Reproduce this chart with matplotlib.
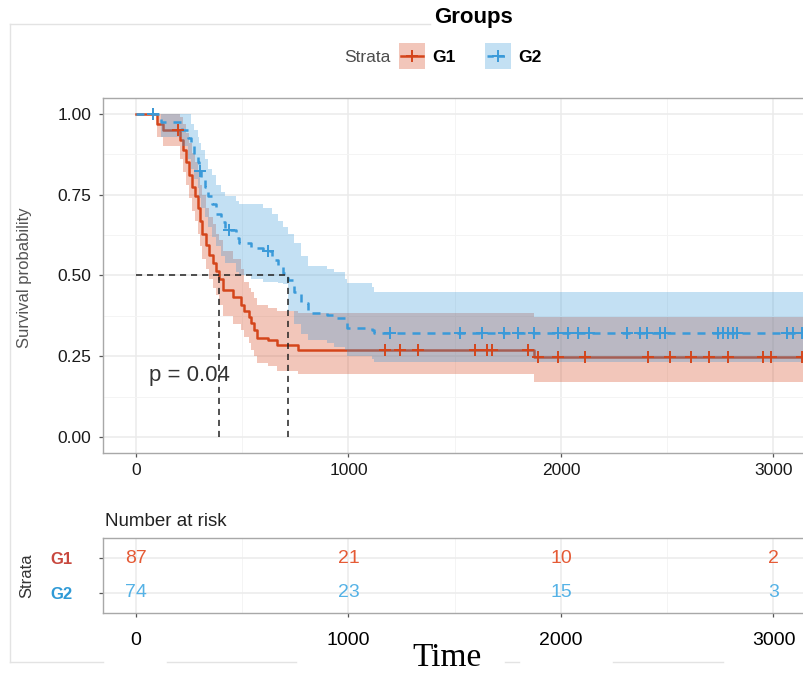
import numpy as np
import matplotlib
matplotlib.use("Agg")
import matplotlib.pyplot as plt
from matplotlib.patches import Rectangle
from matplotlib.lines import Line2D

plt.rcParams['font.family'] = ['Liberation Sans', 'DejaVu Sans']

# ---------------- data ----------------
t_end = 3300

g1_time = [0, 100, 127, 205, 220, 235, 250, 265, 280, 292,
           300, 312, 330, 345, 362, 378, 391, 410, 456, 495,
           510, 530, 540, 555, 572, 620, 663, 762, 1875]
g1_surv = [1.0, 0.97, 0.95, 0.92, 0.89, 0.85, 0.81, 0.775, 0.745, 0.71,
           0.67, 0.63, 0.595, 0.565, 0.54, 0.515, 0.49, 0.455, 0.434, 0.41,
           0.39, 0.37, 0.353, 0.33, 0.306, 0.30, 0.285, 0.269, 0.247]
g1_upper = [1.0, 1.0, 1.0, 0.99, 0.97, 0.94, 0.91, 0.88, 0.85, 0.82,
            0.78, 0.75, 0.71, 0.68, 0.66, 0.63, 0.61, 0.575, 0.55, 0.52,
            0.48, 0.46, 0.45, 0.43, 0.41, 0.40, 0.39, 0.384, 0.37]
g1_lower = [1.0, 0.93, 0.90, 0.86, 0.82, 0.78, 0.74, 0.70, 0.67, 0.63,
            0.59, 0.55, 0.52, 0.49, 0.46, 0.44, 0.41, 0.375, 0.35, 0.33,
            0.31, 0.29, 0.27, 0.25, 0.23, 0.22, 0.205, 0.195, 0.17]
g1_censor = [80, 198, 1172, 1242, 1327, 1595, 1652, 1675, 1845, 1890,
             1986, 2113, 2409, 2513, 2612, 2697, 2786, 2951, 2988, 3134]

g2_time = [0, 120, 215, 245, 258, 272, 290, 298, 305, 325,
           340, 360, 378, 400, 420, 470, 485, 540, 600, 640,
           670, 690, 717, 745, 775, 810, 900, 930, 985, 995,
           1110, 1120]
g2_surv = [1.0, 0.975, 0.95, 0.925, 0.90, 0.875, 0.85, 0.825, 0.80, 0.775,
           0.745, 0.72, 0.69, 0.665, 0.64, 0.615, 0.60, 0.585, 0.575, 0.548,
           0.526, 0.508, 0.486, 0.45, 0.414, 0.384, 0.378, 0.368, 0.362, 0.337,
           0.331, 0.322]
g2_upper = [1.0, 1.0, 1.0, 1.0, 0.97, 0.95, 0.93, 0.91, 0.89, 0.86,
            0.83, 0.81, 0.78, 0.76, 0.745, 0.73, 0.72, 0.72, 0.71, 0.69,
            0.67, 0.65, 0.63, 0.60, 0.56, 0.53, 0.52, 0.51, 0.49, 0.476,
            0.465, 0.45]
g2_lower = [1.0, 0.93, 0.90, 0.86, 0.83, 0.80, 0.77, 0.74, 0.71, 0.68,
            0.65, 0.62, 0.59, 0.56, 0.54, 0.51, 0.50, 0.49, 0.48, 0.48,
            0.478, 0.475, 0.39, 0.35, 0.32, 0.30, 0.29, 0.28, 0.27, 0.25,
            0.24, 0.232]
g2_censor = [80, 300, 440, 620, 1195, 1525, 1628, 1730, 1798, 1872,
             1986, 2033, 2080, 2132, 2311, 2372, 2405, 2466, 2489, 2739,
             2762, 2786, 2809, 2828, 3064, 3092, 3134]

risk_times = [0, 1000, 2000, 3000]
risk_g1 = [87, 21, 10, 2]
risk_g2 = [74, 23, 15, 3]
x_ticks = [0, 1000, 2000, 3000]
y_ticks = [0.0, 0.25, 0.5, 0.75, 1.0]
y_ticklabels = ["0.00", "0.25", "0.50", "0.75", "1.00"]
strata = ["G1", "G2"]
pval_text = "p = 0.04"

# ---------------- style ----------------
RED = "#D4451B"
BLUE = "#3A9AD9"
RED_TXT = "#E55B36"
BLUE_TXT = "#55B2E6"
RED_LAB = "#C8483E"
BLUE_LAB = "#2F9AD6"

W, H = 804, 674
fig = plt.figure(figsize=(W / 100, H / 100), dpi=100)
fig.patch.set_facecolor("white")


def fx(p):
    return p / W


def fy(p):
    return 1 - p / H


def ext(t, *vals):
    tt = list(t) + [t_end]
    out = [tt]
    for v in vals:
        out.append(list(v) + [v[-1]])
    return [np.array(o, dtype=float) for o in out]


def step_val(t, s, x):
    t = np.asarray(t)
    s = np.asarray(s)
    idx = np.searchsorted(t, x, side="right") - 1
    return s[idx]


XL = (-155, 3266)

# ---------------- main axes ----------------
ax = fig.add_axes([fx(103), fy(453), (830 - 103) / W, (453 - 98) / H])
ax.set_xlim(*XL)
ax.set_ylim(-0.0495, 1.0495)
ax.set_xticks(x_ticks)
ax.set_xticks([500, 1500, 2500], minor=True)
ax.set_yticks(y_ticks)
ax.set_yticklabels(y_ticklabels)
ax.set_yticks([0.125, 0.375, 0.625, 0.875], minor=True)
ax.grid(which="major", color="#EBEBEB", lw=1.1, zorder=0)
ax.grid(which="minor", color="#F4F4F4", lw=0.7, zorder=0)
ax.set_axisbelow(True)
for sp in ax.spines.values():
    sp.set_color("#A8A8A8")
    sp.set_linewidth(1.0)
ax.tick_params(which="major", length=3, width=0.9, color="#555555",
               labelsize=12.5, labelcolor="#1A1A1A")
ax.tick_params(axis="x", pad=4)
ax.tick_params(axis="y", pad=5.5)
ax.tick_params(which="minor", length=0)

t1, s1, u1, l1 = ext(g1_time, g1_surv, g1_upper, g1_lower)
t2, s2, u2, l2 = ext(g2_time, g2_surv, g2_upper, g2_lower)

ax.fill_between(t1, l1, u1, step="post", color=RED, alpha=0.3, lw=0, zorder=2)
ax.step(t1, s1, where="post", color=RED, lw=1.8, zorder=3)
ax.fill_between(t2, l2, u2, step="post", color=BLUE, alpha=0.3, lw=0, zorder=4)
ax.step(t2, s2, where="post", color=BLUE, lw=1.8, ls=(0, (3.2, 2.8)), zorder=5)

ax.plot(g1_censor, step_val(g1_time, g1_surv, g1_censor), ls="none",
        marker="+", ms=9, mew=1.4, color=RED, zorder=6)
ax.plot(g2_censor, step_val(g2_time, g2_surv, g2_censor), ls="none",
        marker="+", ms=9, mew=1.4, color=BLUE, zorder=6)

# median lines
def median_time(t, s):
    s = np.asarray(s)
    return np.asarray(t)[np.argmax(s <= 0.5)]

m1 = median_time(g1_time, g1_surv)
m2 = median_time(g2_time, g2_surv)
dash = dict(color="#222222", lw=1.1, ls=(0, (4, 3.2)), zorder=7)
ax.plot([0, max(m1, m2)], [0.5, 0.5], **dash)
ax.plot([m1, m1], [0, 0.5], **dash)
ax.plot([m2, m2], [0, 0.5], **dash)

ax.text(61, 0.19, pval_text, fontsize=16, color="#333333", ha="left",
        va="center", zorder=8)

fig.text(fx(25), fy(278), "Survival probability", rotation=90, ha="center",
         va="center", fontsize=12, color="#555555")

# ---------------- title & legend ----------------
fig.text(fx(474), fy(18), "Groups", fontsize=16, fontweight="bold",
         ha="center", va="center")
fig.text(fx(344), fy(57), "Strata", fontsize=12.5, color="#4D4D4D",
         ha="left", va="center")
for (kx, col, lab, lsty) in [(399, RED, strata[0], "-"),
                             (485, BLUE, strata[1], (0, (2.5, 2)))]:
    fig.add_artist(Rectangle((fx(kx), fy(69)), 26 / W, 26 / H,
                             transform=fig.transFigure, facecolor=col,
                             alpha=0.3, lw=0))
    fig.add_artist(Line2D([fx(kx + 2), fx(kx + 24)], [fy(56), fy(56)],
                          transform=fig.transFigure, color=col, lw=1.8,
                          ls=lsty))
    fig.add_artist(Line2D([fx(kx + 13)], [fy(56)], transform=fig.transFigure,
                          color=col, marker="+", ms=9, mew=1.4, ls="none"))
    fig.text(fx(kx + 33), fy(57), lab, fontsize=12.5, fontweight="bold",
             ha="left", va="center", color="black")

# ---------------- risk table ----------------
tab = fig.add_axes([fx(103), fy(613), (830 - 103) / W, 75 / H])
tab.set_xlim(*XL)
tab.set_ylim(0.4, 2.6)
tab.set_xticks(x_ticks)
tab.set_xticks([500, 1500, 2500], minor=True)
tab.set_yticks([2, 1])
tab.set_yticklabels(strata)
tab.grid(which="major", color="#EBEBEB", lw=1.1, zorder=0)
tab.grid(which="minor", axis="x", color="#F4F4F4", lw=0.7, zorder=0)
tab.set_axisbelow(True)
for sp in tab.spines.values():
    sp.set_color("#A8A8A8")
    sp.set_linewidth(1.0)
tab.tick_params(which="major", length=3, width=0.9, color="#555555")
tab.tick_params(which="minor", length=0)
tab.tick_params(axis="y", pad=19, labelsize=12)
tab.tick_params(axis="x", pad=11, labelsize=14)
for lbl, c in zip(tab.get_yticklabels(), [RED_LAB, BLUE_LAB]):
    lbl.set_color(c)
    lbl.set_fontweight("bold")

for x, a, b in zip(risk_times, risk_g1, risk_g2):
    tab.text(x, 2, str(a), color=RED_TXT, fontsize=14, ha="center", va="center")
    tab.text(x, 1, str(b), color=BLUE_TXT, fontsize=14, ha="center", va="center")

fig.text(fx(105), fy(522), "Number at risk", fontsize=13.5, color="#222222",
         ha="left", va="center")
fig.text(fx(27), fy(576), "Strata", rotation=90, fontsize=12, color="#333333",
         ha="center", va="center")

fig.text(fx(447), fy(673), "Time", fontsize=24, ha="center", va="bottom",
         family=["Liberation Serif", "DejaVu Serif"], color="black")

# ---------------- outer frame fragments ----------------
fc = "#E3E3E3"
fig.add_artist(Line2D([fx(10), fx(10)], [fy(24), fy(662)],
                      transform=fig.transFigure, color=fc, lw=1))
fig.add_artist(Line2D([fx(10), fx(430)], [fy(24), fy(24)],
                      transform=fig.transFigure, color=fc, lw=1))
for a, b in [(10, 103), (167, 296), (505, 519), (613, 723)]:
    fig.add_artist(Line2D([fx(a), fx(b)], [fy(662), fy(662)],
                          transform=fig.transFigure, color=fc, lw=1))

fig.savefig("out.png", dpi=100)
